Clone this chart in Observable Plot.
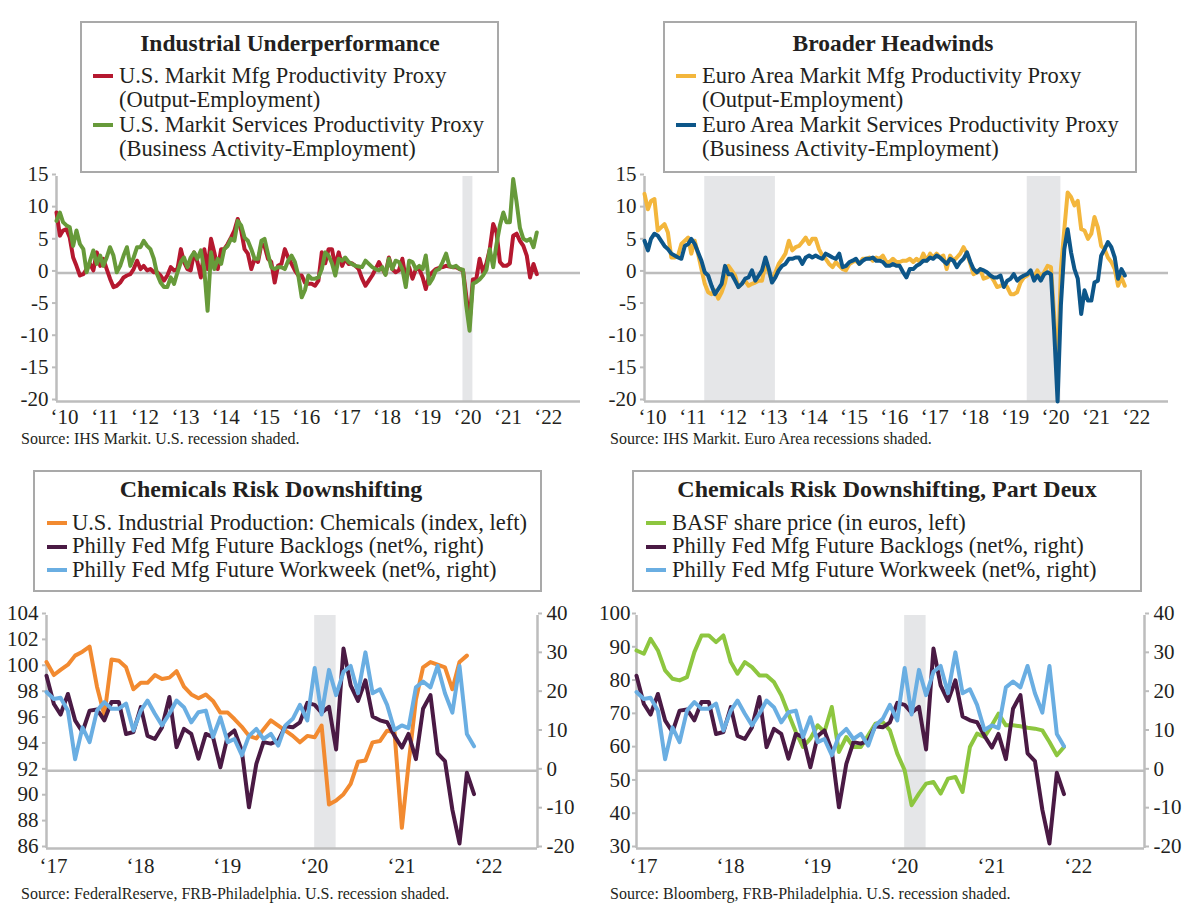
<!DOCTYPE html>
<html><head><meta charset="utf-8">
<script src="https://cdn.jsdelivr.net/npm/d3@7"></script>
<script src="https://cdn.jsdelivr.net/npm/@observablehq/plot@0.6"></script>
<style>
body{margin:0;background:#fff;}
#root{position:relative;width:1200px;height:924px;overflow:hidden;background:#fff;}
.panel{position:absolute;width:600px;height:462px;}
.panel svg{overflow:visible;}
.box{position:absolute;border:2px solid #a9a9a9;background:#fff;box-sizing:border-box;}
.sw{position:absolute;height:4px;width:20px;}
</style></head>
<body><div id="root"></div>
<script>
// ---------------- DATA ----------------
// Panel 1: U.S. Markit productivity proxies, monthly Jan 2010 - Dec 2021
const usMfg = [
 9.4,5.8,6.6,6.8,5.5,2.4,1.1,-0.4,-0.2,0.6,1.4,0.4,
 3.2,1.1,2.2,0.6,-0.9,-2.2,-2.0,-1.5,-0.7,-0.4,-0.2,0.6,
 1.9,0.6,1.1,0.4,0.6,0.1,0.1,-0.4,-1.2,-0.4,0.9,0.4,
 0.6,3.7,1.7,0.6,0.4,3.2,1.7,-0.7,3.7,0.6,5.3,3.2,
 0.6,3.7,3.7,4.5,5.5,6.6,8.4,6.6,3.7,3.0,0.6,2.2,
 1.7,4.5,4.2,2.2,1.7,-1.5,1.1,1.4,3.7,2.4,1.4,0.4,
 -0.4,-0.4,-1.5,-1.7,-1.7,-2.0,-1.2,3.2,1.5,3.7,3.7,1.0,
 3.2,1.1,2.2,1.4,1.5,1.1,0.6,-0.9,-2.0,-1.2,-0.4,0.6,
 1.7,0.6,-0.2,2.4,0.6,0.1,0.4,2.2,-0.9,0.9,-0.9,0.6,
 0.6,-0.7,-2.5,-0.4,0.1,0.6,0.8,0.9,1.1,1.0,0.9,0.9,
 0.6,0.4,-3.5,-7.6,-1.0,-0.9,2.2,0.1,1.5,3.7,7.6,6.3,
 1.7,1.1,1.1,1.5,5.8,6.1,5.0,4.2,2.7,-0.7,1.4,-0.2];
const usSvc = [
 8.1,9.4,7.9,7.4,7.1,4.2,6.6,4.5,3.7,0.1,1.9,3.5,
 1.4,2.7,1.1,2.4,4.0,2.7,0.1,1.1,2.7,4.0,1.1,2.4,
 4.0,4.0,5.0,4.2,3.7,2.2,-0.2,-1.5,-2.2,-2.2,-0.7,-1.7,
 0.1,1.7,2.4,0.9,2.4,3.2,2.2,3.5,0.6,-5.9,3.2,0.6,
 2.2,1.4,3.7,4.2,5.3,5.0,8.1,7.4,5.5,5.0,3.7,2.2,
 2.2,5.0,5.3,3.0,0.9,0.6,0.9,0.9,0.6,1.9,2.7,1.7,
 -0.4,-3.8,-2.7,-0.4,-0.9,-0.9,-0.7,0.6,3.2,2.7,1.5,-0.4,
 2.2,1.9,2.4,1.7,1.4,1.1,1.0,0.9,1.9,1.4,0.9,0.6,
 0.4,0.9,-0.3,2.2,0.6,1.9,1.7,0.6,-2.2,1.9,1.7,0.6,
 1.1,0.6,2.7,-1.7,-0.9,0.4,0.6,1.7,3.0,1.1,0.9,1.1,
 0.6,0.5,-5.0,-9.0,-1.7,-1.4,-1.0,-0.4,0.5,3.7,0.9,4.5,
 7.4,9.4,7.9,7.9,14.6,11.0,7.0,5.3,5.0,5.3,4.0,6.3];
// Panel 2: Euro Area Markit productivity proxies, monthly Jan 2010 - Dec 2021
const euMfg = [
 12.3,9.9,11.2,11.5,6.6,7.1,7.6,6.3,2.4,2.4,2.7,4.5,
 5.0,5.5,3.0,5.0,3.0,0.6,-1.7,-3.0,-3.3,-2.7,-4.0,-3.0,
 -1.5,1.1,0.4,-0.4,-2.2,-1.7,-1.2,-2.0,-1.7,-1.5,-1.2,-1.2,
 1.4,0.1,-1.2,0.1,1.4,2.2,3.0,5.0,3.5,4.0,4.2,4.8,
 5.5,4.5,5.3,5.3,3.7,2.7,2.2,1.4,0.9,1.7,1.1,0.6,
 0.4,1.4,1.7,1.9,1.4,2.2,2.2,2.4,1.9,2.4,2.2,2.7,
 1.7,1.7,2.2,1.7,1.7,1.9,1.9,2.2,1.7,2.2,1.7,3.0,
 1.9,3.0,2.4,3.0,2.4,2.7,0.6,2.7,1.9,2.4,3.0,4.0,
 3.0,1.4,-0.2,0.1,0.6,-0.9,-0.7,-0.4,-1.2,-2.2,-2.0,-1.7,
 -2.2,-3.3,-3.3,-3.0,-1.5,-0.7,-0.4,0.1,-0.7,0.4,-0.7,0.1,
 1.1,0.9,-6.6,-15.5,0.6,6.8,12.5,11.8,10.5,11.2,6.8,6.6,
 5.3,6.1,8.7,7.1,4.2,3.7,2.4,1.7,0.6,-2.0,-0.7,-2.0];
const euSvc = [
 5.0,3.5,5.3,6.1,5.8,5.0,4.2,3.7,3.0,2.7,2.4,2.2,
 4.2,4.5,5.3,4.5,3.2,1.9,0.1,-0.4,-2.0,-3.3,-2.5,-1.7,
 1.1,-0.2,-0.2,-1.2,-2.2,-1.7,-0.9,-0.7,0.4,-1.2,-0.4,0.4,
 2.4,0.6,-1.5,-0.7,0.4,1.1,1.4,2.2,2.2,2.4,2.4,1.4,
 2.4,2.7,2.4,2.7,2.4,2.2,3.0,2.7,2.4,2.2,3.0,0.9,
 1.1,1.7,1.9,2.2,1.4,1.9,2.2,2.2,2.4,1.9,1.9,1.7,
 1.1,1.1,1.4,1.1,1.1,0.1,-0.7,0.6,0.6,1.1,1.4,1.9,
 1.9,2.4,2.2,2.7,2.4,1.9,1.4,2.2,1.9,0.9,1.7,2.2,
 3.2,1.7,0.6,0.1,0.6,0.4,0.1,-0.4,-0.7,-0.7,-0.4,-2.2,
 -1.2,-0.9,-0.2,-1.2,-0.7,-0.4,-0.2,0.4,-1.2,-0.4,-1.2,-0.2,
 0.1,-0.2,-9.0,-20.0,-5.0,3.7,6.8,3.2,0.6,-0.9,-6.4,-2.7,
 -4.3,-4.3,-1.5,-1.2,2.7,3.7,4.8,4.0,2.4,-0.9,0.6,-0.4];
// Panels 3 & 4: monthly from Jan 2017
const chemIP = [
 100.4,99.4,99.8,100.2,100.9,101.2,101.6,98.5,96.3,100.6,100.5,100.0,
 98.3,98.8,98.8,99.4,99.1,99.2,99.7,98.5,97.9,97.6,97.9,97.4,
 96.5,96.5,96.0,95.4,94.7,94.5,95.2,95.9,95.5,95.1,94.7,94.2,
 94.7,94.6,95.5,89.4,89.7,90.2,91.0,92.7,92.8,94.2,94.3,95.1,
 95.0,87.6,92.5,97.5,100.0,100.4,100.2,100.0,98.3,100.4,100.9];
const phillyBacklogs = [
 24.5,17.2,14.5,19.8,13.0,10.0,15.5,15.8,13.0,17.7,17.7,9.5,
 10.0,16.4,9.0,8.2,11.2,19.0,6.1,10.8,9.5,3.1,9.5,8.7,
 0.9,9.0,10.4,5.2,-9.4,1.8,7.4,7.0,7.8,11.5,11.2,12.5,
 17.5,17.0,15.0,16.5,5.5,31.5,22.0,18.0,23.3,14.0,13.0,12.5,
 9.0,6.0,9.5,3.0,16.0,19.5,4.5,2.5,-10.0,-18.7,-0.5,-6.0];
const phillyWorkweek = [
 20.3,18.5,18.8,15.5,3.0,11.2,7.4,15.5,17.7,16.0,16.0,17.3,
 10.4,15.5,18.1,14.7,11.7,14.7,18.1,16.4,12.5,15.1,15.5,8.7,
 13.8,7.4,8.2,4.0,9.0,10.8,8.2,9.5,6.5,11.7,13.4,17.0,
 13.0,26.5,14.5,26.0,19.5,25.5,27.0,20.0,30.5,20.0,21.0,17.0,
 10.5,11.7,11.0,21.5,23.0,21.5,27.0,20.0,15.0,27.0,9.5,6.3];
const basfPrice = [
 89.5,88.5,93.0,89.5,83.5,81.0,80.5,81.5,89.0,94.0,94.0,92.0,
 94.0,86.0,82.5,86.0,84.5,82.0,82.0,80.0,76.0,70.5,65.0,60.5,
 63.0,67.0,65.0,72.5,59.0,63.5,60.5,60.5,64.0,67.5,68.0,65.5,
 58.5,53.5,43.0,46.5,49.5,50.0,46.5,51.0,51.5,47.0,60.5,64.5,
 63.5,67.0,70.5,67.0,67.0,66.7,66.3,66.0,65.5,62.0,58.0,60.5];
// Recession shading
const usRecession = [{start: "2020-02-01", end: "2020-05-01"}];
const euRecessions = [{start: "2011-07-01", end: "2013-04-01"}, {start: "2019-07-01", end: "2020-05-01"}];
// Tick values
const topYTicks = [-20,-15,-10,-5,0,5,10,15];
const rightTicks = [-20,-10,0,10,20,30,40];
const chemLeftTicks = [86,88,90,92,94,96,98,100,102,104];
const basfLeftTicks = [30,40,50,60,70,80,90,100];

// Text
const titles = ["Industrial Underperformance","Broader Headwinds","Chemicals Risk Downshifting","Chemicals Risk Downshifting, Part Deux"];
const sources = ["Source: IHS Markit. U.S. recession shaded.","Source: IHS Markit. Euro Area recessions shaded.",
  "Source: FederalReserve, FRB-Philadelphia. U.S. recession shaded.","Source: Bloomberg, FRB-Philadelphia. U.S. recession shaded."];

// ---------------- STYLE ----------------
const FONT = "'Liberation Serif','Times New Roman',serif";
const TXT = "#231f20", AX = "#bdbdbd", SHADE = "#e5e6e8";
const C = {red:"#b5182f", green:"#679a3a", gold:"#f3b63c", navy:"#0d5689",
           orange:"#f28a30", plum:"#4a1a44", sky:"#6aaee2", lime:"#8dc63f"};

const root = document.getElementById("root");
const utc = s => new Date(s + "T00:00:00Z");
const monthly = (y0, vals) => vals.map((v,i) => ({date: new Date(Date.UTC(y0, i, 1)), value: v}));
const years = (a,b) => d3.range(a,b+1).map(y => new Date(Date.UTC(y,0,1)));
const fmtNeg = d => (d < 0 ? "-" + Math.abs(d) : String(d));
const yrLabel = d => "\u2018" + String(d.getUTCFullYear()).slice(2);
const recs = arr => arr.map(r => ({start: utc(r.start), end: utc(r.end)}));
const fracYear = (y, f) => new Date(Date.UTC(y,0,1) + f*365.25*864e5);

function mount(el, left, top) {
  const d = document.createElement("div");
  d.className = "panel"; d.style.left = left + "px"; d.style.top = top + "px";
  d.appendChild(el); root.appendChild(d);
}

function topPanel({left, mL, mR, series, recessions}) {
  const xDom = [new Date(Date.UTC(2010,0,1)), new Date(Date.UTC(2023,0,1))];
  const yDom = [-20, 15];
  const chart = Plot.plot({
    width: 600, height: 462, marginLeft: mL, marginRight: mR, marginTop: 176, marginBottom: 61,
    style: {fontFamily: FONT, background: "transparent", color: TXT, overflow: "visible"},
    x: {type: "utc", domain: xDom},
    y: {domain: yDom},
    marks: [
      Plot.rect(recs(recessions), {x1: "start", x2: "end", y1: yDom[0], y2: yDom[1], fill: SHADE}),
      Plot.ruleY([0], {stroke: AX, strokeWidth: 2.5}),
      Plot.ruleX([xDom[0]], {stroke: AX, strokeWidth: 2.5}),
      Plot.ruleY([yDom[0]], {stroke: AX, strokeWidth: 2.5}),
      Plot.axisY({ticks: topYTicks, tickFormat: fmtNeg, tickSize: 4, tickPadding: 4, stroke: AX, strokeWidth: 2,
                  fill: TXT, fontSize: 21, label: null, dy: -2}),
      Plot.axisX({ticks: years(2010, 2022), tickFormat: yrLabel, tickSize: 0, tickPadding: 8, fill: TXT,
                  fontSize: 21, label: null, dx: 8}),
      ...series.map(s => Plot.lineY(monthly(2010, s.values), {x: "date", y: "value", stroke: s.color,
                  strokeWidth: 4, strokeLinejoin: "round", strokeLinecap: "round"}))
    ]
  });
  mount(chart, left, 0);
}

function bottomPanel({left, mL, mR, xEndFrac, leftTicks, toR, fromR, leftSeries, rightSeries, leftPad = 4}) {
  const xDom = [new Date(Date.UTC(2017,0,1)), fracYear(2017, xEndFrac)];
  const yDom = [-20, 40];
  const chart = Plot.plot({
    width: 600, height: 462, marginLeft: mL, marginRight: mR, marginTop: 153, marginBottom: 76,
    style: {fontFamily: FONT, background: "transparent", color: TXT, overflow: "visible"},
    x: {type: "utc", domain: xDom},
    y: {domain: yDom},
    marks: [
      Plot.rect(recs(usRecession), {x1: "start", x2: "end", y1: yDom[0], y2: yDom[1], fill: SHADE}),
      Plot.ruleY([0], {stroke: AX, strokeWidth: 2.5}),
      Plot.ruleX(xDom, {stroke: AX, strokeWidth: 2.5}),
      Plot.ruleY([yDom[0]], {stroke: AX, strokeWidth: 2.5}),
      Plot.axisY({anchor: "left", ticks: leftTicks.map(toR), tickFormat: d => String(Math.round(fromR(d))),
                  tickSize: 4, tickPadding: leftPad, stroke: AX, strokeWidth: 2, fill: TXT, fontSize: 21, label: null, dy: -2}),
      Plot.axisY({anchor: "right", ticks: rightTicks, tickFormat: fmtNeg,
                  tickSize: 4, tickPadding: 5, stroke: AX, strokeWidth: 2, fill: TXT, fontSize: 21, label: null, dy: -2}),
      Plot.axisX({ticks: years(2017, 2022), tickFormat: yrLabel, tickSize: 0, tickPadding: 10, fill: TXT,
                  fontSize: 21, label: null, dx: 7}),
      Plot.lineY(monthly(2017, leftSeries.values), {x: "date", y: d => toR(d.value), stroke: leftSeries.color,
                  strokeWidth: 4, strokeLinejoin: "round", strokeLinecap: "round"}),
      ...rightSeries.map(s => Plot.lineY(monthly(2017, s.values), {x: "date", y: "value", stroke: s.color,
                  strokeWidth: 4, strokeLinejoin: "round", strokeLinecap: "round"}))
    ]
  });
  mount(chart, left, 462);
}

topPanel({left: 0, mL: 56, mR: 20, recessions: usRecession,
  series: [{values: usMfg, color: C.red}, {values: usSvc, color: C.green}]});
topPanel({left: 600, mL: 44, mR: 32, recessions: euRecessions,
  series: [{values: euMfg, color: C.gold}, {values: euSvc, color: C.navy}]});
bottomPanel({left: 0, mL: 46, mR: 63, xEndFrac: 5.644, leftTicks: chemLeftTicks,
  toR: v => (v - 92) * 60 / 18, fromR: r => r * 18 / 60 + 92,
  leftSeries: {values: chemIP, color: C.orange},
  rightSeries: [{values: phillyBacklogs, color: C.plum}, {values: phillyWorkweek, color: C.sky}]});
bottomPanel({left: 600, mL: 36, mR: 56, xEndFrac: 5.84, leftTicks: basfLeftTicks, leftPad: 2,
  toR: v => -20 + (v - 30) * 60 / 70, fromR: r => (r + 20) * 70 / 60 + 30,
  leftSeries: {values: basfPrice, color: C.lime},
  rightSeries: [{values: phillyBacklogs, color: C.plum}, {values: phillyWorkweek, color: C.sky}]});

// ---------------- LEGENDS & SOURCES ----------------
function addText(txt, x, baseline, size, {bold = false, middle = false} = {}) {
  const L = Math.round(size * 1.2);
  const top = baseline - ((L - 1.107 * size) / 2 + 0.891 * size);
  const d = document.createElement("div");
  d.textContent = txt;
  Object.assign(d.style, {position: "absolute", left: x + "px", top: top + "px", whiteSpace: "nowrap",
    font: `${bold ? "bold " : ""}${size}px/${L}px ${FONT}`, color: TXT});
  if (middle) d.style.transform = "translateX(-50%)";
  root.appendChild(d);
}
function addBox(l, t, w, h) {
  const b = document.createElement("div");
  b.className = "box";
  Object.assign(b.style, {left: l + "px", top: t + "px", width: w + "px", height: h + "px"});
  root.appendChild(b);
}
function addSwatch(x, y, color) {
  const s = document.createElement("div");
  s.className = "sw";
  Object.assign(s.style, {left: x + "px", top: (y - 2) + "px", background: color});
  root.appendChild(s);
}
function legend({box, title, titleX, titleBase, swX, txtX, bases, items, titleSize = 23.5, itemSize = 22.5}) {
  addBox(...box);
  addText(title, titleX, titleBase, titleSize, {bold: true, middle: true});
  let k = 0;
  items.forEach(it => {
    addSwatch(swX, bases[k] - 7, it.color);
    it.lines.forEach(line => { addText(line, txtX, bases[k], itemSize); k++; });
  });
}

legend({box: [80, 21, 419, 152], title: titles[0], titleX: 290, titleBase: 51, swX: 93, txtX: 119,
  bases: [83, 107.5, 132, 156.5],
  items: [{color: C.red, lines: ["U.S. Markit Mfg Productivity Proxy", "(Output-Employment)"]},
          {color: C.green, lines: ["U.S. Markit Services Productivity Proxy", "(Business Activity-Employment)"]}]});
legend({box: [663, 21, 474, 152], title: titles[1], titleX: 893, titleBase: 51, swX: 676, txtX: 702,
  bases: [83, 107.5, 132, 156.5],
  items: [{color: C.gold, lines: ["Euro Area Markit Mfg Productivity Proxy", "(Output-Employment)"]},
          {color: C.navy, lines: ["Euro Area Markit Services Productivity Proxy", "(Business Activity-Employment)"]}]});
legend({box: [33, 470, 509, 122], title: titles[2], titleX: 271, titleBase: 498, swX: 47, txtX: 72,
  bases: [530, 553.5, 577], titleSize: 24,
  items: [{color: C.orange, lines: ["U.S. Industrial Production: Chemicals (index, left)"]},
          {color: C.plum, lines: ["Philly Fed Mfg Future Backlogs (net%, right)"]},
          {color: C.sky, lines: ["Philly Fed Mfg Future Workweek (net%, right)"]}]});
legend({box: [632, 470, 510, 122], title: titles[3], titleX: 887, titleBase: 498, swX: 646, txtX: 672,
  bases: [530, 553.5, 577], titleSize: 24,
  items: [{color: C.lime, lines: ["BASF share price (in euros, left)"]},
          {color: C.plum, lines: ["Philly Fed Mfg Future Backlogs (net%, right)"]},
          {color: C.sky, lines: ["Philly Fed Mfg Future Workweek (net%, right)"]}]});

addText(sources[0], 21, 444, 16);
addText(sources[1], 610, 444, 16);
addText(sources[2], 21, 899, 16);
addText(sources[3], 610, 899, 16);
</script></body></html>
